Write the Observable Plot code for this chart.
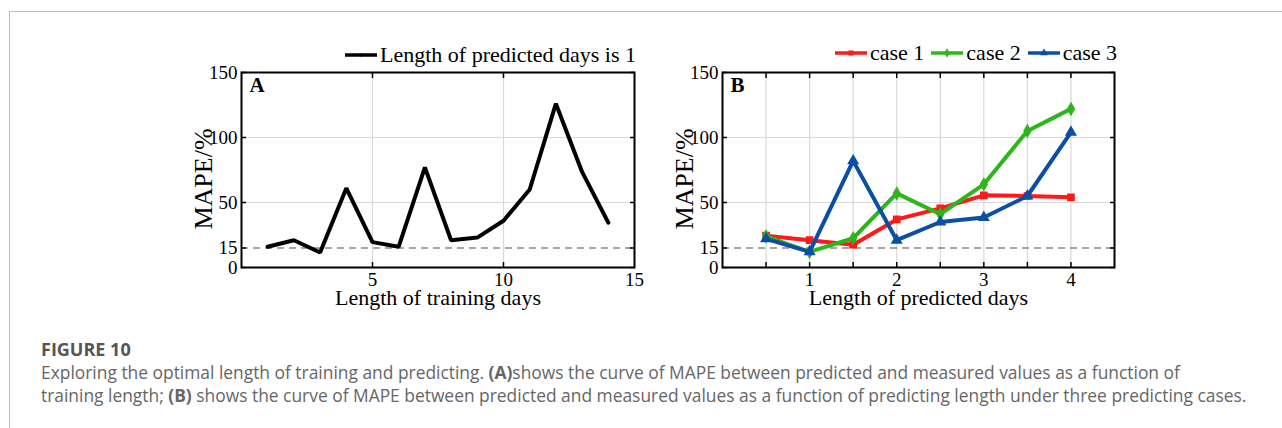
<!DOCTYPE html>
<html><head><meta charset="utf-8">
<script src="https://cdn.jsdelivr.net/npm/d3@7"></script>
<script src="https://cdn.jsdelivr.net/npm/@observablehq/plot@0.6"></script>
<style>
body{margin:0;background:#fff;width:1282px;height:428px;overflow:hidden;position:relative;font-family:"Liberation Serif","Times New Roman",serif;}
.card{position:absolute;left:9px;top:11px;right:-5px;bottom:-5px;border-left:1.5px solid #bdbdbd;border-top:1.5px solid #bdbdbd;}
.plot{position:absolute;top:40px;}
#a{left:150px} #b{left:640px}
.legend{position:absolute;display:flex;align-items:center;font-size:22px;color:#000;white-space:nowrap;line-height:1;}
.legend svg{display:block;margin-right:3px}
.legend .item{display:flex;align-items:center;margin-right:7px}
.cap{position:absolute;left:41px;font-family:"Open Sans",Lato,sans-serif;white-space:nowrap;}
#fig{top:337px;font-size:18px;font-weight:700;color:#555}
#txt{top:361px;font-size:17.4px;line-height:23px;color:#666}
</style></head>
<body>
<div class="card"></div>
<div id="a" class="plot"></div>
<div id="b" class="plot"></div>
<div id="legA" class="legend" style="left:345px;top:44px"></div>
<div id="legB" class="legend" style="left:835px;top:42px"></div>
<div id="fig" class="cap">FIGURE 10</div>
<div id="txt" class="cap">Exploring the optimal length of training and predicting. <b>(A)</b>shows the curve of MAPE between predicted and measured values as a function of<br>training length; <b>(B)</b> shows the curve of MAPE between predicted and measured values as a function of predicting length under three predicting cases.</div>
<script>
// ---- data ----
const trainDays = [1,2,3,4,5,6,7,8,9,10,11,12,13,14];
const mapeA = [16,21,11.5,61,19.5,16,77,21,23,36,60,126,73.5,34.5];
const predDays = [0.5,1,1.5,2,2.5,3,3.5,4];
const case1 = [24.5,21,17.5,37,45.5,55.5,55,54];
const case2 = [24,12,22.5,57,41,64,105,122];
const case3 = [22,12,82,21,35,38.5,55,104];
const yTicks = [0,15,50,100,150];
const xLabelsA = [5,10,15];
const xTicksA = [5,10];
const xLabelsB = [1,2,3,4];
const xTicksB = [0.5,1,1.5,2,2.5,3,3.5,4];
const seriesNames = ["case 1","case 2","case 3"];
const seriesColors = ["#ff1a1a","#2db51c","#0b4ea6"];
const seriesSymbols = ["square","diamond","triangle"];
const legendAText = "Length of predicted days is 1";

const dataA = trainDays.map((x,i)=>({x, y: mapeA[i]}));
const dataB = [case1,case2,case3].flatMap((arr,s)=>predDays.map((x,i)=>({x, y: arr[i], s: seriesNames[s]})));

const font = '"Liberation Serif","Times New Roman",serif';

function panel({xDomain, xLabels, xTicks, gridX, marks, letter, xLabel, marginLeft, marginRight}) {
  return Plot.plot({
    width: 490, height: 280,
    marginLeft, marginRight, marginTop: 32, marginBottom: 53,
    style: {fontFamily: font, fontSize: "19px", color: "#000", background: "transparent", overflow: "visible"},
    x: {domain: xDomain, axis: null},
    y: {domain: [0,150], axis: null},
    marks: [
      Plot.gridX(gridX, {stroke: "#d9d9d9", strokeOpacity: 1, strokeWidth: 1.2}),
      Plot.gridY([50,100], {stroke: "#d9d9d9", strokeOpacity: 1, strokeWidth: 1.2}),
      Plot.ruleY([15], {stroke: "#8f8585", strokeWidth: 1.5, strokeDasharray: "7,5"}),
      ...marks,
      Plot.axisX(xTicks, {anchor: "bottom", tickSize: -5, tickFormat: () => "", label: null, strokeWidth: 1.5}),
      Plot.axisX(xTicks, {anchor: "top", tickSize: -5, tickFormat: () => "", label: null, strokeWidth: 1.5}),
      Plot.axisY(yTicks, {anchor: "left", tickSize: -5, tickFormat: () => "", label: null, strokeWidth: 1.5}),
      Plot.axisY(yTicks, {anchor: "right", tickSize: -5, tickFormat: () => "", label: null, strokeWidth: 1.5}),
      Plot.text(xLabels, {x: d => d, frameAnchor: "bottom", lineAnchor: "top", textAnchor: "middle", dy: 5, fontSize: 19}),
      Plot.text(yTicks, {y: d => d, frameAnchor: "left", lineAnchor: "middle", textAnchor: "end", dx: -4, fontSize: 19}),
      Plot.frame({stroke: "#000", strokeWidth: 2}),
      Plot.text([letter], {frameAnchor: "top-left", lineAnchor: "top", textAnchor: "start", dx: 8, dy: 5, fontSize: 21, fontWeight: "bold"}),
      Plot.text([xLabel], {frameAnchor: "bottom", lineAnchor: "middle", textAnchor: "middle", dy: 30, fontSize: 22}),
      Plot.text(["MAPE/%"], {frameAnchor: "left", lineAnchor: "middle", textAnchor: "middle", dx: -38, dy: 9, rotate: -90, fontSize: 26})
    ]
  });
}

document.getElementById("a").append(panel({
  xDomain: [0,15], xLabels: xLabelsA, xTicks: xTicksA, gridX: xTicksA, letter: "A",
  xLabel: "Length of training days", marginLeft: 91, marginRight: 6,
  marks: [Plot.line(dataA, {x: "x", y: "y", stroke: "#000", strokeWidth: 4, strokeLinejoin: "miter"})]
}));

document.getElementById("b").append(panel({
  xDomain: [0,4.5], xLabels: xLabelsB, xTicks: xTicksB, gridX: xTicksB, letter: "B",
  xLabel: "Length of predicted days", marginLeft: 82, marginRight: 16,
  marks: seriesNames.flatMap((name,i)=>{
    const d = dataB.filter(v=>v.s===name);
    return [
      Plot.line(d, {x: "x", y: "y", stroke: seriesColors[i], strokeWidth: 4}),
      Plot.dot(d, {x: "x", y: "y", symbol: seriesSymbols[i], r: 3.5, fill: seriesColors[i], stroke: seriesColors[i]})
    ];
  })
}));

// legends
function swatch(color, symbol) {
  const ns = "http://www.w3.org/2000/svg";
  const svg = document.createElementNS(ns, "svg");
  svg.setAttribute("width", 32); svg.setAttribute("height", 12);
  const line = document.createElementNS(ns, "line");
  line.setAttribute("x1", 0); line.setAttribute("x2", 32); line.setAttribute("y1", 6); line.setAttribute("y2", 6);
  line.setAttribute("stroke", color); line.setAttribute("stroke-width", 3.5);
  svg.append(line);
  const sym = d3.symbol().type({square: d3.symbolSquare, diamond: d3.symbolDiamond, triangle: d3.symbolTriangle, circle: d3.symbolCircle}[symbol]).size(symbol==="circle"?8:26)();
  const p = document.createElementNS(ns, "path");
  p.setAttribute("d", sym); p.setAttribute("transform", "translate(16,6)"); p.setAttribute("fill", color);
  svg.append(p);
  return svg;
}
const legA = document.getElementById("legA");
const ia = document.createElement("div"); ia.className = "item";
ia.append(swatch("#000","circle"), document.createTextNode(legendAText));
legA.append(ia);
const legB = document.getElementById("legB");
seriesNames.forEach((n,i)=>{
  const it = document.createElement("div"); it.className = "item";
  it.append(swatch(seriesColors[i], seriesSymbols[i]), document.createTextNode(n));
  legB.append(it);
});
</script>
</body></html>
